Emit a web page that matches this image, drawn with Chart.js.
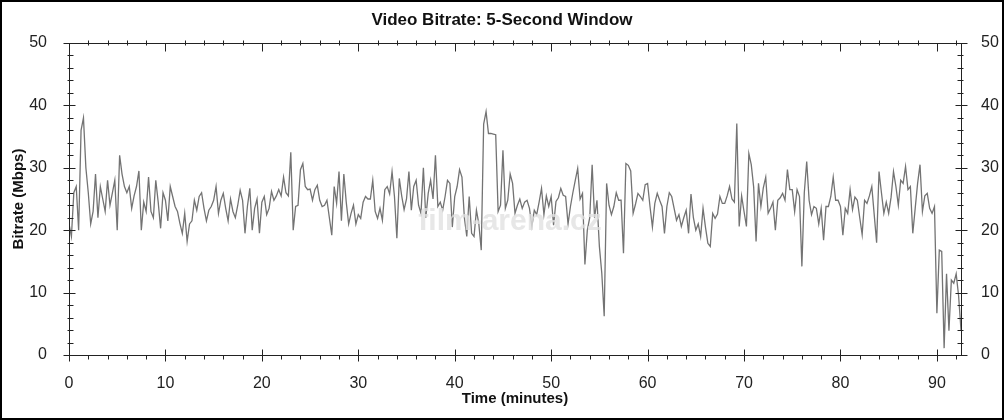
<!DOCTYPE html>
<html lang="en">
<head>
<meta charset="UTF-8">
<title>Video Bitrate: 5-Second Window</title>
<script src="https://cdn.jsdelivr.net/npm/chart.js@4.4.1/dist/chart.umd.min.js"></script>
<style>
  html, body { margin: 0; padding: 0; background: #fff; }
  canvas { display: block; }
</style>
</head>
<body>
<canvas id="bitrateChart" width="1004" height="420"></canvas>
<script>
const chartTitle = 'Video Bitrate: 5-Second Window';
const xTitle = 'Time (minutes)';
const yTitle = 'Bitrate (Mbps)';
const watermark = 'film-arena.cz';

const timeStep = 0.25; // minutes between samples
const xMax = 92.5;
const xTicks = [0, 10, 20, 30, 40, 50, 60, 70, 80, 90];
const yTicks = [0, 10, 20, 30, 40, 50];

// Mbps, one value every 15 seconds
const bitrate = [
  // 0 - 4.75
  21, 19, 26, 27, 20, 36, 38, 30, 26, 21, 23, 29, 22, 27, 25, 23, 28, 24, 26, 28,
  // 5 - 9.75
  20, 32, 29, 27, 26, 27, 23.5, 25.5, 27, 29.5, 20, 24.5, 23, 28.5, 23, 22, 28, 24.5, 20.3, 26,
  // 10
  24.8, 21.5, 27, 25.4, 23.8, 23, 21.1, 19.5, 22.7, 18.2, 21, 21.5, 24.8, 23.2, 25.4, 26, 23.5, 21.5, 23.2, 23.8,
  // 15
  24.8, 27, 22.7, 24.8, 25.9, 23.5, 21.5, 25, 23, 22, 24, 26.4, 24.8, 19.5, 23.8, 26.7, 20, 23.5, 25, 19.5,
  // 20
  24.5, 25.4, 22.5, 23.5, 26.2, 24.8, 25.5, 26.5, 25.5, 28.5, 26, 25.5, 32.5, 20, 23.8, 24, 29.7, 30.7, 27, 26.5,
  // 25
  26.6, 24.8, 26.5, 27.2, 24.8, 23.8, 24, 24.8, 22, 19.2, 27, 24.3, 29.4, 21.5, 29, 24.5, 21, 22.7, 24, 21,
  // 30
  22.5, 21.9, 24.5, 25.4, 25, 25, 28, 23, 21.9, 23.5, 21.6, 26.5, 27, 25.8, 29.4, 25.4, 18.7, 28.3, 25.5, 23.3,
  // 35
  25, 29.4, 23.2, 27, 28, 24, 22.7, 30, 22, 25.9, 28, 25, 32, 23.8, 24.5, 23.2, 25.4, 28, 27.5, 20.5,
  // 40
  25.4, 27, 29.7, 28.5, 22, 19, 25.4, 19.5, 19, 23.2, 21, 16.8, 37, 39, 35.5, 35.5, 35.4, 35.3, 23, 24,
  // 45
  32.8, 23.5, 24.8, 29, 27.5, 22.7, 24, 25, 23.5, 24.5, 24.8, 23.5, 20.6, 23.2, 22.5, 24.5, 26.7, 22.5, 25.5, 23.8,
  // 50
  25.4, 20.8, 24.6, 25.2, 26.7, 25.6, 25.4, 21, 23.8, 26, 28, 29.9, 25, 25.9, 14.5, 20, 22, 30.5, 22, 24.8,
  // 55
  17.4, 13.1, 6.2, 27.5, 24, 22.5, 23.8, 26, 24.8, 24.8, 16.3, 30.7, 30.4, 29.5, 22.7, 24.2, 25.9, 25.4, 24.8, 27.3,
  // 60
  27.5, 23.8, 20.5, 24.3, 25.9, 24.8, 23.8, 19.5, 23.8, 26, 25.4, 23.5, 21.6, 22.5, 20.6, 22, 23.2, 19.5, 25.8, 22,
  // 65
  20, 21, 19, 23.5, 20.5, 17.9, 17.4, 22.7, 21.9, 22.6, 25.4, 24.3, 24.3, 25.5, 27, 25, 24.5, 37.1, 20.6, 25.5,
  // 70
  23, 20.6, 32.3, 30.5, 26.9, 18.2, 27.5, 23.8, 26.8, 28.5, 22.7, 23.5, 24.5, 20, 24.8, 25.2, 25.9, 24.8, 29.7, 26.5,
  // 75
  26.5, 23, 26.5, 25.4, 14.2, 26, 31, 24.8, 22.5, 23.8, 23.5, 21, 23.5, 18.4, 23.8, 23.8, 25.4, 28.5, 24.8, 24.8,
  // 80
  23.8, 19.2, 23.5, 22.7, 26.5, 23.3, 25.3, 24.8, 22, 19.3, 24.8, 24.3, 25.5, 27, 22.5, 18, 29.4, 26, 22.7, 24.5,
  // 85
  22.7, 25.3, 29.4, 27, 24, 28, 27.5, 30.2, 26.5, 27, 19.5, 23.5, 27.5, 30.5, 23, 25.5, 25.9, 23.5, 22.7, 23.8,
  // 90 - 92.5
  6.7, 16.8, 16.6, 1.1, 13, 3.9, 12, 11.5, 13, 9.5, 4
];

const times = bitrate.map((_, i) => i * timeStep);

const FONT = '"Liberation Sans", Arial, sans-serif';
const INK = '#222222';

// frame, tick marks, titles and the outer border
const framePlugin = {
  id: 'frame',
  afterDatasetsDraw(chart) {
    const { ctx, chartArea: a } = chart;
    ctx.save();
    ctx.fillStyle = 'rgba(225,225,225,0.8)';
    ctx.font = 'bold 30px ' + FONT;
    ctx.textAlign = 'center';
    ctx.textBaseline = 'middle';
    ctx.fillText(watermark, (a.left + a.right) / 2 - 5, 222);
    ctx.restore();
  },
  afterDraw(chart) {
    const { ctx, chartArea: a, scales } = chart;
    const x = scales.x, y = scales.y;
    const L = Math.round(a.left) + 0.5, R = Math.round(a.right) + 0.5;
    const T = Math.round(a.top) + 0.5, B = Math.round(a.bottom) + 0.5;
    ctx.save();
    ctx.strokeStyle = INK;
    ctx.lineWidth = 1;
    ctx.beginPath();
    ctx.rect(L, T, R - L, B - T);
    ctx.stroke();

    ctx.beginPath();
    for (let v = 0; v <= xMax; v += 2) {
      const px = Math.round(x.getPixelForValue(v)) + 0.5;
      if (v % 10 === 0) {
        ctx.moveTo(px, B - 6); ctx.lineTo(px, B + 6);
        ctx.moveTo(px, T); ctx.lineTo(px, T + 8);
      } else {
        ctx.moveTo(px, B); ctx.lineTo(px, B + 4);
        ctx.moveTo(px, T - 3); ctx.lineTo(px, T + 2);
      }
    }
    for (let v = 0; v <= 50; v += 2) {
      const py = Math.round(y.getPixelForValue(v)) + 0.5;
      if (v % 10 === 0) {
        ctx.moveTo(L - 6, py); ctx.lineTo(L + 6, py);
        ctx.moveTo(R - 6, py); ctx.lineTo(R + 6, py);
      } else {
        ctx.moveTo(L - 2, py); ctx.lineTo(L + 4, py);
        ctx.moveTo(R - 4, py); ctx.lineTo(R + 2, py);
      }
    }
    ctx.stroke();

    ctx.fillStyle = '#111';
    ctx.textAlign = 'center';
    ctx.textBaseline = 'middle';
    ctx.font = 'bold 17px ' + FONT;
    ctx.fillText(chartTitle, 502, 20);
    ctx.font = 'bold 15px ' + FONT;
    ctx.fillText(xTitle, (a.left + a.right) / 2, 399);
    ctx.translate(19, (a.top + a.bottom) / 2);
    ctx.rotate(-Math.PI / 2);
    ctx.fillText(yTitle, 0, 0);
    ctx.restore();

    ctx.save();
    ctx.strokeStyle = '#000';
    ctx.lineWidth = 2;
    ctx.strokeRect(1, 1, chart.width - 2, chart.height - 2);
    ctx.restore();
  }
};

const tickFont = { family: FONT, size: 16 };

new Chart(document.getElementById('bitrateChart'), {
  type: 'line',
  data: {
    datasets: [{
      data: times.map((t, i) => ({ x: t, y: bitrate[i] })),
      borderColor: '#737373',
      borderWidth: 1.3,
      pointRadius: 0,
      tension: 0
    }]
  },
  options: {
    responsive: false,
    animation: false,
    devicePixelRatio: 1,
    layout: { padding: { top: 43, left: 0, right: 0, bottom: 0 } },
    plugins: { legend: { display: false }, tooltip: { enabled: false } },
    scales: {
      x: {
        type: 'linear', position: 'bottom', min: 0, max: xMax,
        afterBuildTicks: s => { s.ticks = xTicks.map(v => ({ value: v })); },
        afterFit: s => { s.height = 65; },
        grid: { display: false }, border: { display: false },
        ticks: { font: tickFont, color: INK, padding: 11, maxRotation: 0, autoSkip: false }
      },
      y: {
        type: 'linear', position: 'left', min: 0, max: 50,
        afterBuildTicks: s => { s.ticks = yTicks.map(v => ({ value: v })); },
        afterFit: s => { s.width = 69; },
        grid: { display: false }, border: { display: false },
        ticks: { font: tickFont, color: INK, padding: 14 }
      },
      y2: {
        type: 'linear', position: 'right', min: 0, max: 50,
        afterBuildTicks: s => { s.ticks = yTicks.map(v => ({ value: v })); },
        afterFit: s => { s.width = 43; },
        grid: { display: false }, border: { display: false },
        ticks: { font: tickFont, color: INK, padding: 12 }
      }
    }
  },
  plugins: [framePlugin]
});
</script>
</body>
</html>
